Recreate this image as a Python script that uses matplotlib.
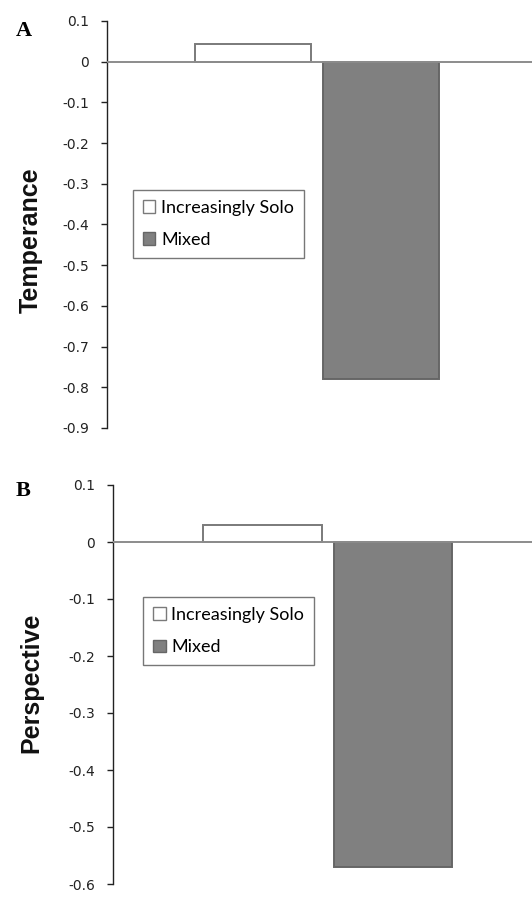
import matplotlib
matplotlib.use("Agg")
import matplotlib.pyplot as plt
from matplotlib.patches import Patch

series = ["Increasingly Solo", "Mixed"]
temperance = [0.043, -0.78]
perspective = [0.030, -0.57]
ylabels = ["Temperance", "Perspective"]
panel_letters = ["A", "B"]
ticks_a = [0.1, 0, -0.1, -0.2, -0.3, -0.4, -0.5, -0.6, -0.7, -0.8, -0.9]
ticks_b = [0.1, 0, -0.1, -0.2, -0.3, -0.4, -0.5, -0.6]

fills = ["white", "#808080"]
edges = ["#7a7a7a", "#666666"]

W, H = 532, 900
fig = plt.figure(figsize=(W / 100, H / 100), dpi=100)

def px_axes(left, right, top, bottom):
    return fig.add_axes([left / W, 1 - bottom / H, (right - left) / W, (bottom - top) / H])

def tick_text(v):
    if v == 0:
        return "0"
    return f"{v:.1f}"

def draw(ax, vals, ticks, xlim, width, ylabel, letter, leg_anchor, ylab_xy, letter_xy):
    for i, v in enumerate(vals):
        ax.bar(i, v, width=width, color=fills[i], edgecolor=edges[i], linewidth=1.4, zorder=2)
    ax.axhline(0, color="#8c8c8c", linewidth=1.4, zorder=3)
    ax.set_xlim(*xlim)
    ax.set_ylim(min(ticks), max(ticks))
    ax.set_yticks(ticks)
    ax.set_yticklabels([tick_text(t) for t in ticks], fontsize=10, family="DejaVu Sans", color="#222222")
    ax.tick_params(axis="y", direction="out", length=4, width=1.0, pad=9, color="#222222")
    ax.set_xticks([])
    for s in ["top", "right", "bottom"]:
        ax.spines[s].set_visible(False)
    ax.spines["left"].set_color("#222222")
    ax.spines["left"].set_linewidth(1.0)
    fig.text(ylab_xy[0] / W, 1 - ylab_xy[1] / H, ylabel, rotation=90, fontsize=18,
             fontweight="bold", family=["Liberation Sans Narrow", "Liberation Sans", "DejaVu Sans"],
             ha="center", va="center", color="#111111")
    handles = [Patch(facecolor=fills[i], edgecolor=edges[i], linewidth=1.0) for i in range(2)]
    leg = ax.legend(handles, series, loc="upper left", bbox_to_anchor=leg_anchor,
                    borderaxespad=0, fancybox=False, frameon=True,
                    prop={"family": ["Lato", "DejaVu Sans"], "size": 13},
                    handlelength=0.7, handleheight=0.7, handletextpad=0.3,
                    labelspacing=0.9, borderpad=0.55)
    leg.get_frame().set_edgecolor("#555555")
    leg.get_frame().set_linewidth(1.0)
    fig.text(letter_xy[0] / W, 1 - letter_xy[1] / H, letter, fontsize=16, fontweight="bold",
             family=["Liberation Serif", "DejaVu Serif"], ha="left", va="center")

axA = px_axes(107, 532, 21, 428)
draw(axA, temperance, ticks_a, (-1.14, 2.18), 0.906, ylabels[0], panel_letters[0],
     (0.061, 0.585), (31, 240), (16, 31))

axB = px_axes(113, 532, 485, 884)
draw(axB, perspective, ticks_b, (-1.146, 2.065), 0.91, ylabels[1], panel_letters[1],
     (0.072, 0.719), (31, 683), (16, 491))

fig.savefig("out.png", dpi=100)
